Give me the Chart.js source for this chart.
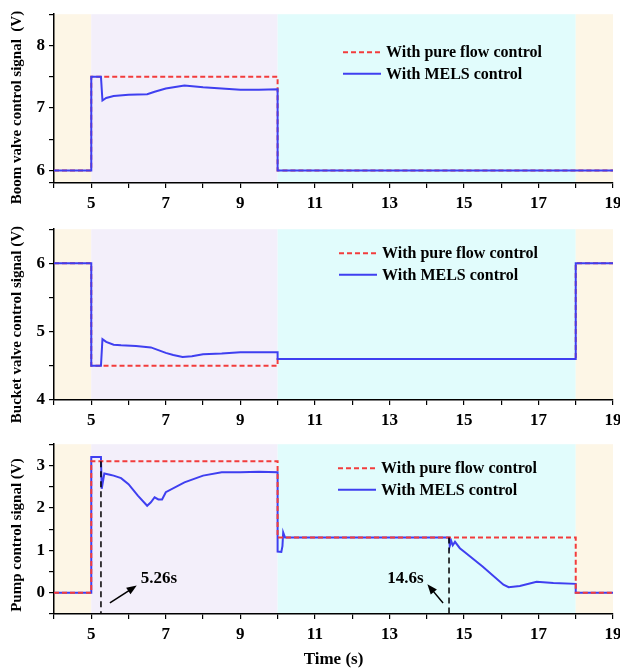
<!DOCTYPE html>
<html>
<head>
<meta charset="utf-8">
<script src="https://cdn.jsdelivr.net/npm/chart.js@4.4.0/dist/chart.umd.min.js"></script>
<style>
html, body { margin: 0; padding: 0; background: #fff; }
.panel { position: absolute; left: 0; width: 620px; }
</style>
</head>
<body>
<div class="panel" style="top:0"><canvas id="boom" width="620" height="215"></canvas></div>
<div class="panel" style="top:215px"><canvas id="bucket" width="620" height="215"></canvas></div>
<div class="panel" style="top:430px"><canvas id="pump" width="620" height="241"></canvas></div>
<script>
// time axis
var xTicks = [4, 5, 6, 7, 8, 9, 10, 11, 12, 13, 14, 15, 16, 17, 18, 19];
var xLabels = [5, 7, 9, 11, 13, 15, 17, 19];
var phaseEdges = [4, 5, 10, 18, 19];

// boom valve
var boomPureT = [4, 5, 5, 10, 10, 19];
var boomPureV = [6, 6, 7.5, 7.5, 6, 6];
var boomMelsT = [4, 5, 5, 5.26, 5.3, 5.4, 5.6, 6.0, 6.5, 6.7, 7.0, 7.5, 8.0, 8.5, 9.0, 9.5, 10, 10, 19];
var boomMelsV = [6, 6, 7.5, 7.5, 7.12, 7.16, 7.19, 7.21, 7.22, 7.26, 7.31, 7.36, 7.33, 7.31, 7.29, 7.29, 7.3, 6, 6];
var boomTicks = [6, 6.5, 7, 7.5, 8, 8.5];
var boomLabels = [6, 7, 8];

// bucket valve
var bucketPureT = [4, 5, 5, 10, 10, 18, 18, 19];
var bucketPureV = [6, 6, 4.5, 4.5, 4.6, 4.6, 6, 6];
var bucketMelsT = [4, 5, 5, 5.26, 5.3, 5.4, 5.6, 5.8, 6.2, 6.6, 6.8, 7.0, 7.2, 7.45, 7.7, 8.0, 8.5, 9.0, 9.5, 10, 10, 18, 18, 19];
var bucketMelsV = [6, 6, 4.5, 4.5, 4.89, 4.85, 4.81, 4.8, 4.79, 4.77, 4.73, 4.69, 4.66, 4.63, 4.64, 4.67, 4.68, 4.7, 4.7, 4.7, 4.6, 4.6, 6, 6];
var bucketTicks = [4, 4.5, 5, 5.5, 6, 6.5];
var bucketLabels = [4, 5, 6];

// pump
var pumpPureT = [4, 5, 5, 10, 10, 18, 18, 19];
var pumpPureV = [0, 0, 3.1, 3.1, 1.3, 1.3, 0, 0];
var pumpMelsT = [4, 5, 5, 5.26, 5.28, 5.35, 5.5, 5.6, 5.8, 6.0, 6.25, 6.5, 6.6, 6.7, 6.8, 6.9, 7.0, 7.5, 8.0, 8.5, 9.0, 9.5, 10, 10, 10.1, 10.13, 10.15, 10.2,
  14.6, 14.62, 14.66, 14.7, 14.76, 14.89, 15.0, 15.5, 16.06, 16.2, 16.5, 16.95, 17.4, 18, 18, 19];
var pumpMelsV = [0, 0, 3.2, 3.2, 2.45, 2.81, 2.78, 2.76, 2.7, 2.56, 2.29, 2.05, 2.13, 2.25, 2.2, 2.2, 2.37, 2.6, 2.76, 2.84, 2.84, 2.85, 2.84, 0.97, 0.96, 1.1, 1.42, 1.3,
  1.3, 1.1, 1.22, 1.12, 1.2, 1.05, 0.97, 0.62, 0.19, 0.13, 0.16, 0.26, 0.23, 0.21, 0, 0];
var pumpTicks = [-0.5, 0, 0.5, 1, 1.5, 2, 2.5, 3, 3.5];
var pumpLabels = [0, 1, 2, 3];
var pumpMarks = [5.26, 14.6];
var pumpMarkTops = [3.1, 1.3];
var pumpMarkText = ['5.26s', '14.6s'];

var seriesNames = ['With pure flow control', 'With MELS control'];

// style
var RED = '#f23c3c';
var BLUE = '#3f3ff0';
var phaseColors = ['#fdf6e6', '#f3effa', '#e1fcfc', '#fdf6e6'];
var SERIF = "'Liberation Serif', 'Times New Roman', serif";

function pts(t, v) {
  return t.map(function (x, i) { return { x: x, y: v[i] }; });
}

var phasePlugin = {
  id: 'phases',
  beforeDraw: function (chart) {
    var ctx = chart.ctx, a = chart.chartArea, xs = chart.scales.x;
    ctx.save();
    for (var i = 0; i < phaseColors.length; i++) {
      var x0 = xs.getPixelForValue(phaseEdges[i]);
      var x1 = xs.getPixelForValue(phaseEdges[i + 1]);
      ctx.fillStyle = phaseColors[i];
      ctx.fillRect(x0, a.top, x1 - x0, a.bottom - a.top);
    }
    ctx.restore();
  }
};

// legend inside the plot + rotated y title
var legendPlugin = {
  id: 'boxLegend',
  afterDraw: function (chart, args, opts) {
    var ctx = chart.ctx, a = chart.chartArea;
    var x0 = a.left + opts.dx, y0 = a.top + opts.dy;
    ctx.save();
    ctx.font = 'bold 16px ' + SERIF;
    ctx.textBaseline = 'middle';
    ctx.fillStyle = '#000';
    [[RED, [5, 3]], [BLUE, []]].forEach(function (s, i) {
      var y = y0 + i * 21.5;
      ctx.strokeStyle = s[0];
      ctx.lineWidth = 2;
      ctx.setLineDash(s[1]);
      ctx.beginPath();
      ctx.moveTo(x0, y);
      ctx.lineTo(x0 + 38, y);
      ctx.stroke();
      ctx.fillText(seriesNames[i], x0 + 43, y + 1);
    });

    ctx.translate(17, (a.top + a.bottom) / 2 + opts.titleDy);
    ctx.rotate(-Math.PI / 2);
    ctx.textAlign = 'center';
    ctx.font = 'bold 15px ' + SERIF;
    ctx.fillText(opts.title, 0, 0);
    ctx.restore();
  }
};

var markPlugin = {
  id: 'marks',
  afterDatasetsDraw: function (chart, args, opts) {
    if (!opts.arrows) return;
    var ctx = chart.ctx, xs = chart.scales.x, ys = chart.scales.y, a = chart.chartArea;
    ctx.save();
    pumpMarks.forEach(function (t, i) {
      var px = xs.getPixelForValue(t);
      ctx.strokeStyle = '#000';
      ctx.lineWidth = 1.5;
      ctx.setLineDash([6, 4]);
      ctx.beginPath();
      ctx.moveTo(px, ys.getPixelForValue(pumpMarkTops[i]));
      ctx.lineTo(px, a.bottom);
      ctx.stroke();

      var ar = opts.arrows[i];
      var fx = xs.getPixelForValue(ar.from[0]), fy = ys.getPixelForValue(ar.from[1]);
      var tx = xs.getPixelForValue(ar.to[0]), ty = ys.getPixelForValue(ar.to[1]);
      var ang = Math.atan2(ty - fy, tx - fx);
      ctx.setLineDash([]);
      ctx.beginPath();
      ctx.moveTo(fx, fy);
      ctx.lineTo(tx - 6 * Math.cos(ang), ty - 6 * Math.sin(ang));
      ctx.stroke();
      ctx.fillStyle = '#000';
      ctx.beginPath();
      ctx.moveTo(tx, ty);
      ctx.lineTo(tx - 10 * Math.cos(ang) + 4 * Math.sin(ang), ty - 10 * Math.sin(ang) - 4 * Math.cos(ang));
      ctx.lineTo(tx - 10 * Math.cos(ang) - 4 * Math.sin(ang), ty - 10 * Math.sin(ang) + 4 * Math.cos(ang));
      ctx.closePath();
      ctx.fill();

      ctx.font = 'bold 17px ' + SERIF;
      ctx.textAlign = ar.align;
      ctx.textBaseline = 'middle';
      ctx.fillText(pumpMarkText[i], xs.getPixelForValue(ar.text[0]), ys.getPixelForValue(ar.text[1]));
    });
    ctx.restore();
  }
};

function makeChart(id, cfg) {
  var datasets = [
    { label: seriesNames[0], data: pts(cfg.pureT, cfg.pureV), borderColor: RED, borderWidth: 2,
      borderDash: [5, 3], order: cfg.redTop ? 0 : 1 },
    { label: seriesNames[1], data: pts(cfg.melsT, cfg.melsV), borderColor: BLUE, borderWidth: 2,
      order: cfg.redTop ? 1 : 0 }
  ];
  cfg.legend.title = cfg.yTitle;
  return new Chart(document.getElementById(id), {
    type: 'line',
    data: { datasets: datasets },
    plugins: [phasePlugin, legendPlugin, markPlugin],
    options: {
      responsive: false,
      animation: false,
      layout: { padding: { top: cfg.top, right: 0, left: 0, bottom: 0 } },
      elements: { point: { radius: 0 }, line: { tension: 0 } },
      plugins: {
        legend: { display: false },
        tooltip: { enabled: false },
        boxLegend: cfg.legend,
        marks: { arrows: cfg.arrows }
      },
      scales: {
        x: {
          type: 'linear', min: 4, max: 19,
          afterBuildTicks: function (s) { s.ticks = xTicks.map(function (v) { return { value: v }; }); },
          afterFit: function (s) { s.height = cfg.xh; s.paddingRight = 7; s.paddingLeft = 0; },
          ticks: {
            autoSkip: false, maxRotation: 0, padding: 5, color: '#000',
            font: { family: SERIF, size: 17, weight: 'bold' },
            callback: function (v) { return xLabels.indexOf(v) >= 0 ? String(v) : ''; }
          },
          grid: { drawOnChartArea: false, tickLength: 5, color: '#000', lineWidth: 1.2 },
          border: { color: '#000', width: 1.5 },
          title: {
            display: !!cfg.xTitle, text: cfg.xTitle, color: '#000',
            font: { family: SERIF, size: 17, weight: 'bold' },
            padding: { top: 0, bottom: 1 }
          }
        },
        y: {
          type: 'linear', min: cfg.yTicks[0], max: cfg.yTicks[cfg.yTicks.length - 1],
          afterBuildTicks: function (s) { s.ticks = cfg.yTicks.map(function (v) { return { value: v }; }); },
          afterFit: function (s) { s.width = 54; },
          ticks: {
            autoSkip: false, padding: 4, color: '#000',
            font: { family: SERIF, size: 17, weight: 'bold' },
            callback: function (v) { return cfg.yLabels.indexOf(v) >= 0 ? String(v) : ''; }
          },
          grid: { drawOnChartArea: false, tickLength: 5, color: '#000', lineWidth: 1.2 },
          border: { color: '#000', width: 1.5 },
          title: { display: false }
        }
      }
    }
  });
}

makeChart('boom', {
  pureT: boomPureT, pureV: boomPureV, melsT: boomMelsT, melsV: boomMelsV,
  yTicks: [5.8].concat(boomTicks), yLabels: boomLabels,
  yTitle: 'Boom valve control signal  (V)', top: 12, xh: 32,
  legend: { dx: 289, dy: 38, titleDy: 9 }
});

makeChart('bucket', {
  pureT: bucketPureT, pureV: bucketPureV, melsT: bucketMelsT, melsV: bucketMelsV,
  yTicks: bucketTicks, yLabels: bucketLabels,
  yTitle: 'Bucket valve control signal (V)', top: 14, xh: 30,
  legend: { dx: 285, dy: 24, titleDy: 10 }
});

makeChart('pump', {
  pureT: pumpPureT, pureV: pumpPureV, melsT: pumpMelsT, melsV: pumpMelsV,
  yTicks: pumpTicks, yLabels: pumpLabels, redTop: true,
  yTitle: 'Pump control signal (V)', xTitle: 'Time (s)', top: 13, xh: 57,
  legend: { dx: 284, dy: 24, titleDy: 6 },
  arrows: [
    { from: [5.5, -0.24], to: [6.22, 0.17], text: [6.33, 0.33], align: 'left' },
    { from: [14.44, -0.24], to: [14.02, 0.2], text: [13.92, 0.33], align: 'right' }
  ]
});
</script>
</body>
</html>
